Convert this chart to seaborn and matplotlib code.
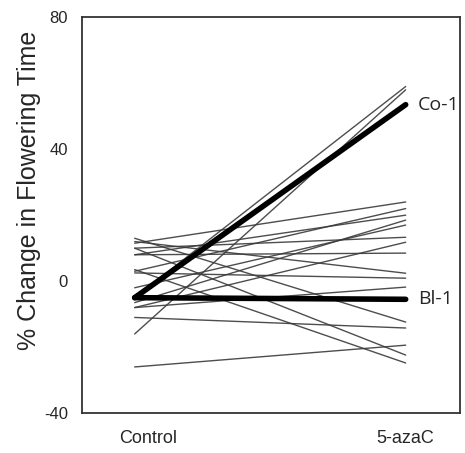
import numpy as np
import pandas as pd
import matplotlib
matplotlib.use("Agg")
import matplotlib.pyplot as plt
import seaborn as sns

# accessions: % change at Control and after 5-azaC
conditions = ["Control", "5-azaC"]
control_vals = [13, 12, 11.5, 10, 10, 8, 8, 3.5, 3, 2.5, -2, -6.5, -8, -8, -11, -5, -16, -26]
aza_vals = [-12.4, 2.4, 24, -22.4, 13.3, 20, 8.5, -24.8, 22, 0.9, 17, 18.5, 11.8, -1.8, -14.2, 59, 58, -19.4]

hl_names = ["Co-1", "Bl-1"]
hl_control = [-5, -5]
hl_aza = [53.5, -5.5]

rows = []
for i, (c, a) in enumerate(zip(control_vals, aza_vals)):
    rows.append({"line": i, "cond": 0, "val": c})
    rows.append({"line": i, "cond": 1, "val": a})
df = pd.DataFrame(rows)

hl_rows = []
for n, c, a in zip(hl_names, hl_control, hl_aza):
    hl_rows.append({"name": n, "cond": 0, "val": c})
    hl_rows.append({"name": n, "cond": 1, "val": a})
hl = pd.DataFrame(hl_rows)

sns.set_style("white")
plt.rcParams['font.family'] = ['Liberation Sans', 'DejaVu Sans']
plt.rcParams['axes.unicode_minus'] = False

fig = plt.figure(figsize=(4.65, 4.53), dpi=100)
ax = fig.add_axes([0.176, 0.088, 0.813, 0.874])

sns.lineplot(data=df, x="cond", y="val", units="line", estimator=None,
             color="#3a3a3a", linewidth=1.0, alpha=0.9, ax=ax, legend=False)
sns.lineplot(data=hl, x="cond", y="val", units="name", estimator=None,
             color="black", linewidth=4, ax=ax, legend=False,
             solid_capstyle="round")

for n, a in zip(hl_names, hl_aza):
    ax.text(1.045, a, n, va="center", ha="left", fontsize=14,
            family=["Open Sans", "DejaVu Sans"])

ax.set_xlim(-0.195, 1.2)
ax.set_ylim(-40, 80)
ax.set_yticks([-40, 0, 40, 80])
ax.set_xticks([0.05, 1])
ax.set_xticklabels(conditions, fontsize=13)
ax.tick_params(axis="y", labelsize=12, length=0, pad=10)
ax.tick_params(axis="x", length=0, pad=12)
ax.set_xlabel("")
ax.set_ylabel("% Change in Flowering Time", fontsize=18)
ax.yaxis.set_label_coords(-0.108, 0.563)

for s in ax.spines.values():
    s.set_color("#333333")
    s.set_linewidth(1.3)

fig.savefig("out.png", dpi=100)
